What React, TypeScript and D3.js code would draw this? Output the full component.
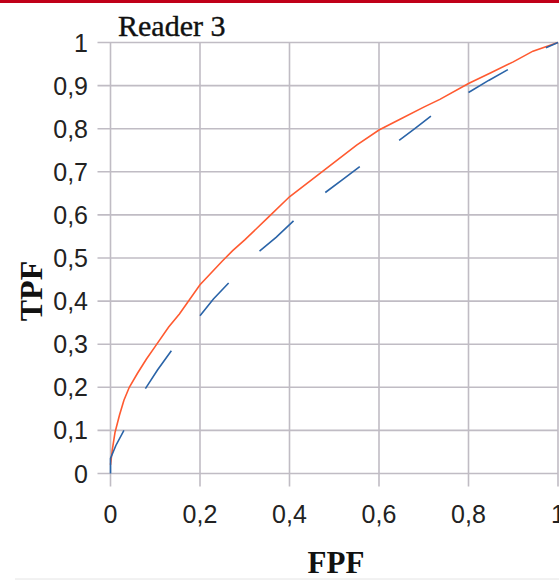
import React from 'react'
import * as d3 from 'd3'

// fitted ROC curve (orange)
const fitFpf = [0, 0.004, 0.01, 0.02, 0.03, 0.042, 0.06, 0.08, 0.1, 0.13, 0.154, 0.2, 0.25, 0.273, 0.3, 0.35, 0.4, 0.45, 0.5, 0.55, 0.6, 0.647, 0.7, 0.736, 0.8, 0.85, 0.9, 0.944, 1]
const fitTpf = [0.02, 0.055, 0.095, 0.135, 0.17, 0.2, 0.232, 0.265, 0.295, 0.34, 0.37, 0.438, 0.493, 0.517, 0.542, 0.592, 0.642, 0.682, 0.722, 0.762, 0.797, 0.822, 0.85, 0.868, 0.905, 0.93, 0.955, 0.98, 1]

// empirical segments (blue)
const segFpf = [
  [0, 0, 0.012, 0.03],
  [0.078, 0.105, 0.136],
  [0.2, 0.23, 0.264],
  [0.333, 0.37, 0.409],
  [0.48, 0.52, 0.557],
  [0.645, 0.68, 0.716],
  [0.8, 0.845, 0.888],
  [0.973, 1],
]
const segTpf = [
  [0, 0.035, 0.065, 0.1],
  [0.197, 0.24, 0.285],
  [0.366, 0.405, 0.442],
  [0.516, 0.548, 0.586],
  [0.652, 0.683, 0.712],
  [0.773, 0.8, 0.829],
  [0.884, 0.912, 0.937],
  [0.988, 1],
]

const xTicks = [0, 0.2, 0.4, 0.6, 0.8, 1]
const yTicks = [0, 0.1, 0.2, 0.3, 0.4, 0.5, 0.6, 0.7, 0.8, 0.9, 1]

const fmt = (d: number) => String(+d.toFixed(1)).replace('.', ',')

export default function App() {
  const width = 559
  const height = 580
  const x = d3.scaleLinear().domain([0, 1]).range([110.5, 558])
  const y = d3.scaleLinear().domain([0, 1]).range([473.5, 42.5])

  const line = d3.line<[number, number]>()
    .x(d => x(d[0]))
    .y(d => y(d[1]))

  const fit = fitFpf.map((f, i) => [f, fitTpf[i]] as [number, number])
  const grid = '#c0bcc4'
  const tickFont = '"Liberation Sans", Arial, sans-serif'
  const serif = '"Liberation Serif", "Times New Roman", serif'

  return (
    <svg width={width} height={height} style={{ position: 'absolute', left: 0, top: 0, background: '#fff' }}>
      <rect x={0} y={0} width={width} height={3} fill="#c00018" />
      <line x1={15} x2={width} y1={579} y2={579} stroke="#e4e4e4" />

      {xTicks.map(t => (
        <line key={'gx' + t} x1={x(t)} x2={x(t)} y1={y(1)} y2={y(0) + 13} stroke={grid} strokeWidth={1.6} />
      ))}
      {yTicks.map(t => (
        <line key={'gy' + t} x1={x(0) - 13} x2={x(1)} y1={y(t)} y2={y(t)} stroke={grid} strokeWidth={1.6} />
      ))}

      {yTicks.map(t => (
        <text key={'ly' + t} x={88} y={y(t)} dy="0.36em" textAnchor="end"
          fontFamily={tickFont} fontSize={25} fill="#222">{fmt(t)}</text>
      ))}
      {xTicks.map(t => (
        <text key={'lx' + t} x={x(t)} y={523} textAnchor="middle"
          fontFamily={tickFont} fontSize={25} fill="#222">{fmt(t)}</text>
      ))}

      <path d={line(fit) ?? ''} fill="none" stroke="#ff5a30" strokeWidth={1.6} />
      {segFpf.map((s, i) => (
        <path key={'seg' + i} d={line(s.map((f, j) => [f, segTpf[i][j]] as [number, number])) ?? ''}
          fill="none" stroke="#2a64a8" strokeWidth={1.6} />
      ))}

      <text x={118} y={36} fontFamily={serif} fontSize={30} fill="#111" stroke="#111" strokeWidth={0.4}>Reader 3</text>
      <text x={336} y={573} textAnchor="middle" fontFamily={serif} fontSize={31} fontWeight="bold" fill="#111">FPF</text>
      <text transform="translate(42,291) rotate(-90)" textAnchor="middle" fontFamily={serif} fontSize={32} fontWeight="bold" fill="#111">TPF</text>
    </svg>
  )
}
